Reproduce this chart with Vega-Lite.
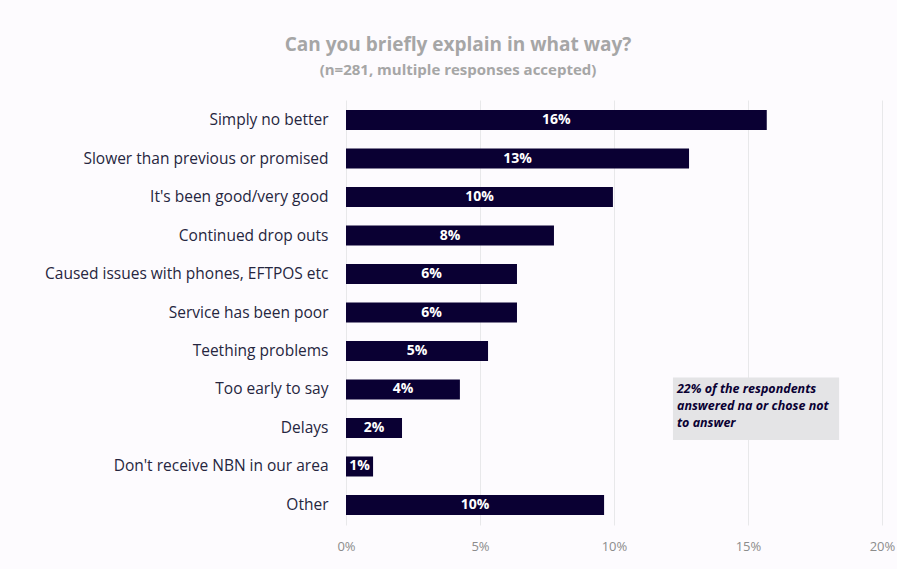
{
  "$schema": "https://vega.github.io/schema/vega-lite/v6.json",
  "width": 536,
  "height": 425,
  "autosize": "none",
  "padding": {"left": 346, "top": 100, "right": 15, "bottom": 44},
  "background": "#fdfbfe",
  "title": {
    "text": "Can you briefly explain in what way?",
    "subtitle": "(n=281, multiple responses accepted)",
    "anchor": "middle",
    "frame": "group",
    "dx": -156,
    "offset": 22,
    "font": "Open Sans",
    "fontSize": 19,
    "fontWeight": "bold",
    "color": "#a6a6a6",
    "subtitleFont": "Open Sans",
    "subtitleFontSize": 15,
    "subtitleFontWeight": "bold",
    "subtitleColor": "#a6a6a6",
    "subtitlePadding": 8
  },
  "config": {
    "view": {"stroke": null},
    "font": "Open Sans"
  },
  "datasets": {
    "bars": [
      {"reason": "Simply no better", "value": 0.157, "label": "16%"},
      {"reason": "Slower than previous or promised", "value": 0.128, "label": "13%"},
      {"reason": "It's been good/very good", "value": 0.0996, "label": "10%"},
      {"reason": "Continued drop outs", "value": 0.0776, "label": "8%"},
      {"reason": "Caused issues with phones, EFTPOS etc", "value": 0.0638, "label": "6%"},
      {"reason": "Service has been poor", "value": 0.0638, "label": "6%"},
      {"reason": "Teething problems", "value": 0.053, "label": "5%"},
      {"reason": "Too early to say", "value": 0.0425, "label": "4%"},
      {"reason": "Delays", "value": 0.0209, "label": "2%"},
      {"reason": "Don't receive NBN in our area", "value": 0.0101, "label": "1%"},
      {"reason": "Other", "value": 0.0963, "label": "10%"}
    ],
    "note": [
      {"x": 0.122, "x2": 0.184, "y": "Too early to say", "y2": "Delays", "text": ["22% of the respondents", "answered na or chose not", "to answer"]}
    ]
  },
  "layer": [
    {
      "data": {"name": "bars"},
      "mark": {"type": "bar", "color": "#0a0033"},
      "encoding": {
        "y": {
          "field": "reason",
          "type": "nominal",
          "sort": null,
          "title": null,
          "scale": {
            "domain": ["Simply no better", "Slower than previous or promised", "It's been good/very good", "Continued drop outs", "Caused issues with phones, EFTPOS etc", "Service has been poor", "Teething problems", "Too early to say", "Delays", "Don't receive NBN in our area", "Other"],
            "paddingInner": 0.48,
            "paddingOuter": 0.26
          },
          "axis": {
            "ticks": false,
            "domain": false,
            "labelPadding": 18,
            "labelFontSize": 15.5,
            "labelColor": "#262640",
            "labelLimit": 340
          }
        },
        "x": {
          "field": "value",
          "type": "quantitative",
          "title": null,
          "scale": {"domain": [0, 0.2]},
          "axis": {
            "format": ".0%",
            "values": [0, 0.05, 0.1, 0.15, 0.2],
            "ticks": false,
            "domain": false,
            "labelFlush": false,
            "labelPadding": 15,
            "labelFontSize": 13,
            "labelColor": "#8c8c8c",
            "gridColor": "#e8e8ea"
          }
        }
      }
    },
    {
      "data": {"name": "bars"},
      "transform": [{"calculate": "datum.value / 2", "as": "mid"}],
      "mark": {"type": "text", "color": "white", "fontSize": 14, "fontWeight": "bold", "align": "center", "baseline": "middle"},
      "encoding": {
        "y": {"field": "reason", "type": "nominal", "sort": null},
        "x": {"field": "mid", "type": "quantitative"},
        "text": {"field": "label"}
      }
    },
    {
      "data": {"name": "note"},
      "mark": {"type": "rect", "color": "#e4e4e6", "yOffset": -2, "y2Offset": 2},
      "encoding": {
        "x": {"field": "x", "type": "quantitative"},
        "x2": {"field": "x2"},
        "y": {"field": "y", "type": "nominal", "bandPosition": 0},
        "y2": {"field": "y2", "bandPosition": 1}
      }
    },
    {
      "data": {"name": "note"},
      "mark": {"type": "text", "color": "#0a0033", "fontSize": 12.5, "fontStyle": "italic", "fontWeight": "bold", "align": "left", "baseline": "middle", "lineHeight": 17, "dx": 4, "dy": 0},
      "encoding": {
        "x": {"field": "x", "type": "quantitative"},
        "y": {"field": "y", "type": "nominal"},
        "text": {"field": "text"}
      }
    }
  ]
}
